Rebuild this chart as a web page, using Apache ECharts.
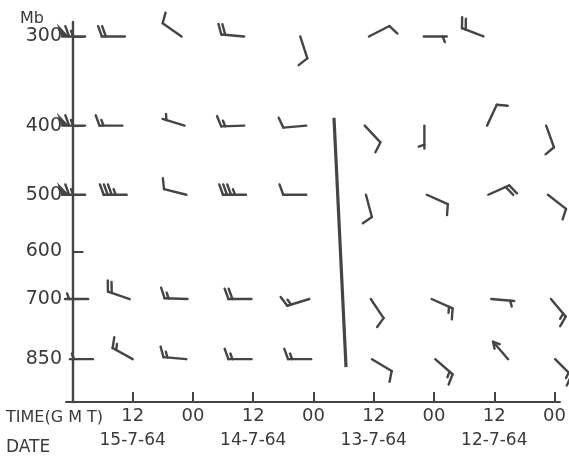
<!DOCTYPE html>
<html>
<head>
<meta charset="utf-8">
<script src="https://cdn.jsdelivr.net/npm/echarts@6/dist/echarts.min.js"></script>
<style>
  html, body { margin: 0; padding: 0; background: #fff; }
  #chart { width: 569px; height: 459px; }
</style>
</head>
<body>
<div id="chart"></div>
<script>
const levels = [300, 400, 500, 600, 700, 850];
const timeTicks = [1, 2, 3, 4, 5, 6, 7, 8];
const timeLabels = ['12', '00', '12', '00', '12', '00', '12', '00'];
const dateTicks = [1, 3, 5, 7];
const dateLabels = ['15-7-64', '14-7-64', '13-7-64', '12-7-64'];

// wind reports per level: [time position, direction (deg), speed (kt)]
const winds300 = [
  [0.21, 270, 65], [0.87, 270, 20], [1.81, 305, 10], [2.85, 275, 20],
  [3.78, 162, 10], [4.92, 63, 10], [5.83, 90, 5], [6.82, 291, 20]
];
const winds400 = [
  [0.21, 270, 65], [0.83, 270, 15], [1.86, 287, 5], [2.85, 268, 15],
  [3.88, 265, 10], [4.85, 137, 10], [5.84, 180, 5], [6.88, 25, 10], [7.86, 160, 10]
];
const winds500 = [
  [0.21, 270, 65], [0.90, 270, 35], [1.89, 284, 10], [2.88, 270, 35],
  [3.88, 270, 10], [4.87, 165, 10], [5.88, 114, 10], [6.90, 66, 20], [7.89, 128, 10]
];
const winds700 = [
  [0.26, 270, 5], [0.95, 289, 20], [1.91, 272, 15], [2.97, 270, 20],
  [3.93, 253, 15], [4.95, 146, 10], [5.96, 114, 15], [6.95, 95, 5], [7.94, 140, 15]
];
const winds850 = [
  [0.34, 270, 5], [1.00, 299, 15], [1.89, 275, 15], [2.97, 270, 15],
  [3.96, 270, 15], [4.97, 121, 10], [6.02, 131, 15], [7.23, 319, 0], [8.01, 135, 15]
];
// thick vertical line: [time position, pressure]
const frontLine = [[4.34, 390], [4.54, 872]];

const INK = '#454545';
const FONT = 'DejaVu Sans';

const barbData = [];
[[300, winds300], [400, winds400], [500, winds500], [700, winds700], [850, winds850]]
  .forEach(([lev, arr]) => arr.forEach(w => barbData.push([w[0], lev, w[1], w[2]])));

const SHAFT = 23, FULL = 11, HALF = 6, STEP = 4;

function renderBarb(params, api) {
  const p = api.coord([api.value(0), api.value(1)]);
  const dir = api.value(2) * Math.PI / 180;
  const spd = api.value(3);
  const u = [Math.sin(dir), -Math.cos(dir)];
  const a = 70 * Math.PI / 180;
  const f = [u[0] * Math.cos(a) - u[1] * Math.sin(a), u[0] * Math.sin(a) + u[1] * Math.cos(a)];
  const tail = [p[0] + u[0] * SHAFT, p[1] + u[1] * SHAFT];
  const style = { stroke: INK, lineWidth: 2.4, lineCap: 'round', lineJoin: 'round' };
  const at = s => [tail[0] - u[0] * s, tail[1] - u[1] * s];
  const kids = [{ type: 'line', shape: { x1: p[0], y1: p[1], x2: tail[0], y2: tail[1] }, style }];
  let s = 0, rest = spd;
  while (rest >= 50) {
    const b = at(s), c = at(s + 6);
    kids.push({ type: 'polygon', shape: { points: [b, [b[0] + f[0] * FULL, b[1] + f[1] * FULL], c] },
      style: { fill: INK, stroke: INK, lineWidth: 1.2 } });
    s += 7; rest -= 50;
  }
  while (rest >= 10) {
    const b = at(s);
    kids.push({ type: 'line', shape: { x1: b[0], y1: b[1], x2: b[0] + f[0] * FULL, y2: b[1] + f[1] * FULL }, style });
    s += STEP; rest -= 10;
  }
  if (rest >= 5) {
    if (spd < 10) s += STEP;
    const b = at(s);
    kids.push({ type: 'line', shape: { x1: b[0], y1: b[1], x2: b[0] + f[0] * HALF, y2: b[1] + f[1] * HALF }, style });
  }
  if (spd === 0) {
    [0.5, -0.5].forEach(r => {
      const v = [u[0] * Math.cos(r) - u[1] * Math.sin(r), u[0] * Math.sin(r) + u[1] * Math.cos(r)];
      kids.push({ type: 'line', shape: { x1: tail[0], y1: tail[1], x2: tail[0] - v[0] * 7, y2: tail[1] - v[1] * 7 }, style });
    });
  }
  return { type: 'group', children: kids };
}

const chart = echarts.init(document.getElementById('chart'));
chart.setOption({
  backgroundColor: '#fff',
  animation: false,
  grid: { left: 66, right: 7, top: 22, bottom: 57 },
  xAxis: [
    {
      type: 'value', min: -0.107, max: 8.09,
      axisLine: { lineStyle: { color: INK, width: 2 } },
      axisTick: { inside: true, length: 10, customValues: timeTicks, lineStyle: { color: INK, width: 2 } },
      axisLabel: {
        customValues: timeTicks, margin: 5, color: '#3a3a3a', fontSize: 18, fontFamily: FONT,
        formatter: v => timeLabels[Math.round(v) - 1] || ''
      },
      splitLine: { show: false }
    },
    {
      type: 'value', min: -0.107, max: 8.09, position: 'bottom', offset: 0,
      axisLine: { show: false }, axisTick: { show: false }, splitLine: { show: false },
      axisLabel: {
        customValues: dateTicks, margin: 30, color: '#3a3a3a', fontSize: 17, fontFamily: FONT,
        formatter: v => dateLabels[dateTicks.indexOf(Math.round(v))] || ''
      }
    }
  ],
  yAxis: {
    type: 'log', inverse: true, min: 286.3, max: 976,
    axisLine: { show: true, lineStyle: { color: INK, width: 2.4 } },
    axisTick: { show: true, inside: true, length: 11, customValues: levels, lineStyle: { color: INK, width: 2 } },
    axisLabel: { customValues: levels, margin: 4, color: '#3a3a3a', fontSize: 19, fontFamily: FONT, formatter: v => String(v) },
    splitLine: { show: false }
  },
  graphic: [
    { type: 'text', left: 20, top: 11, style: { text: 'Mb', fontSize: 16, fontFamily: FONT, fill: '#3a3a3a' } },
    { type: 'text', left: 6, top: 410, style: { text: 'TIME(G M T)', fontSize: 16, fontFamily: FONT, fill: '#3a3a3a' } },
    { type: 'text', left: 6, top: 439, style: { text: 'DATE', fontSize: 17, fontFamily: FONT, fill: '#3a3a3a' } }
  ],
  series: [
    {
      type: 'custom', name: 'wind', xAxisIndex: 0, renderItem: renderBarb,
      encode: { x: 0, y: 1 }, data: barbData, silent: true
    },
    {
      type: 'line', name: 'front', xAxisIndex: 0, data: frontLine, symbol: 'none',
      lineStyle: { color: INK, width: 3.2 }, silent: true
    }
  ]
});
</script>
</body>
</html>
